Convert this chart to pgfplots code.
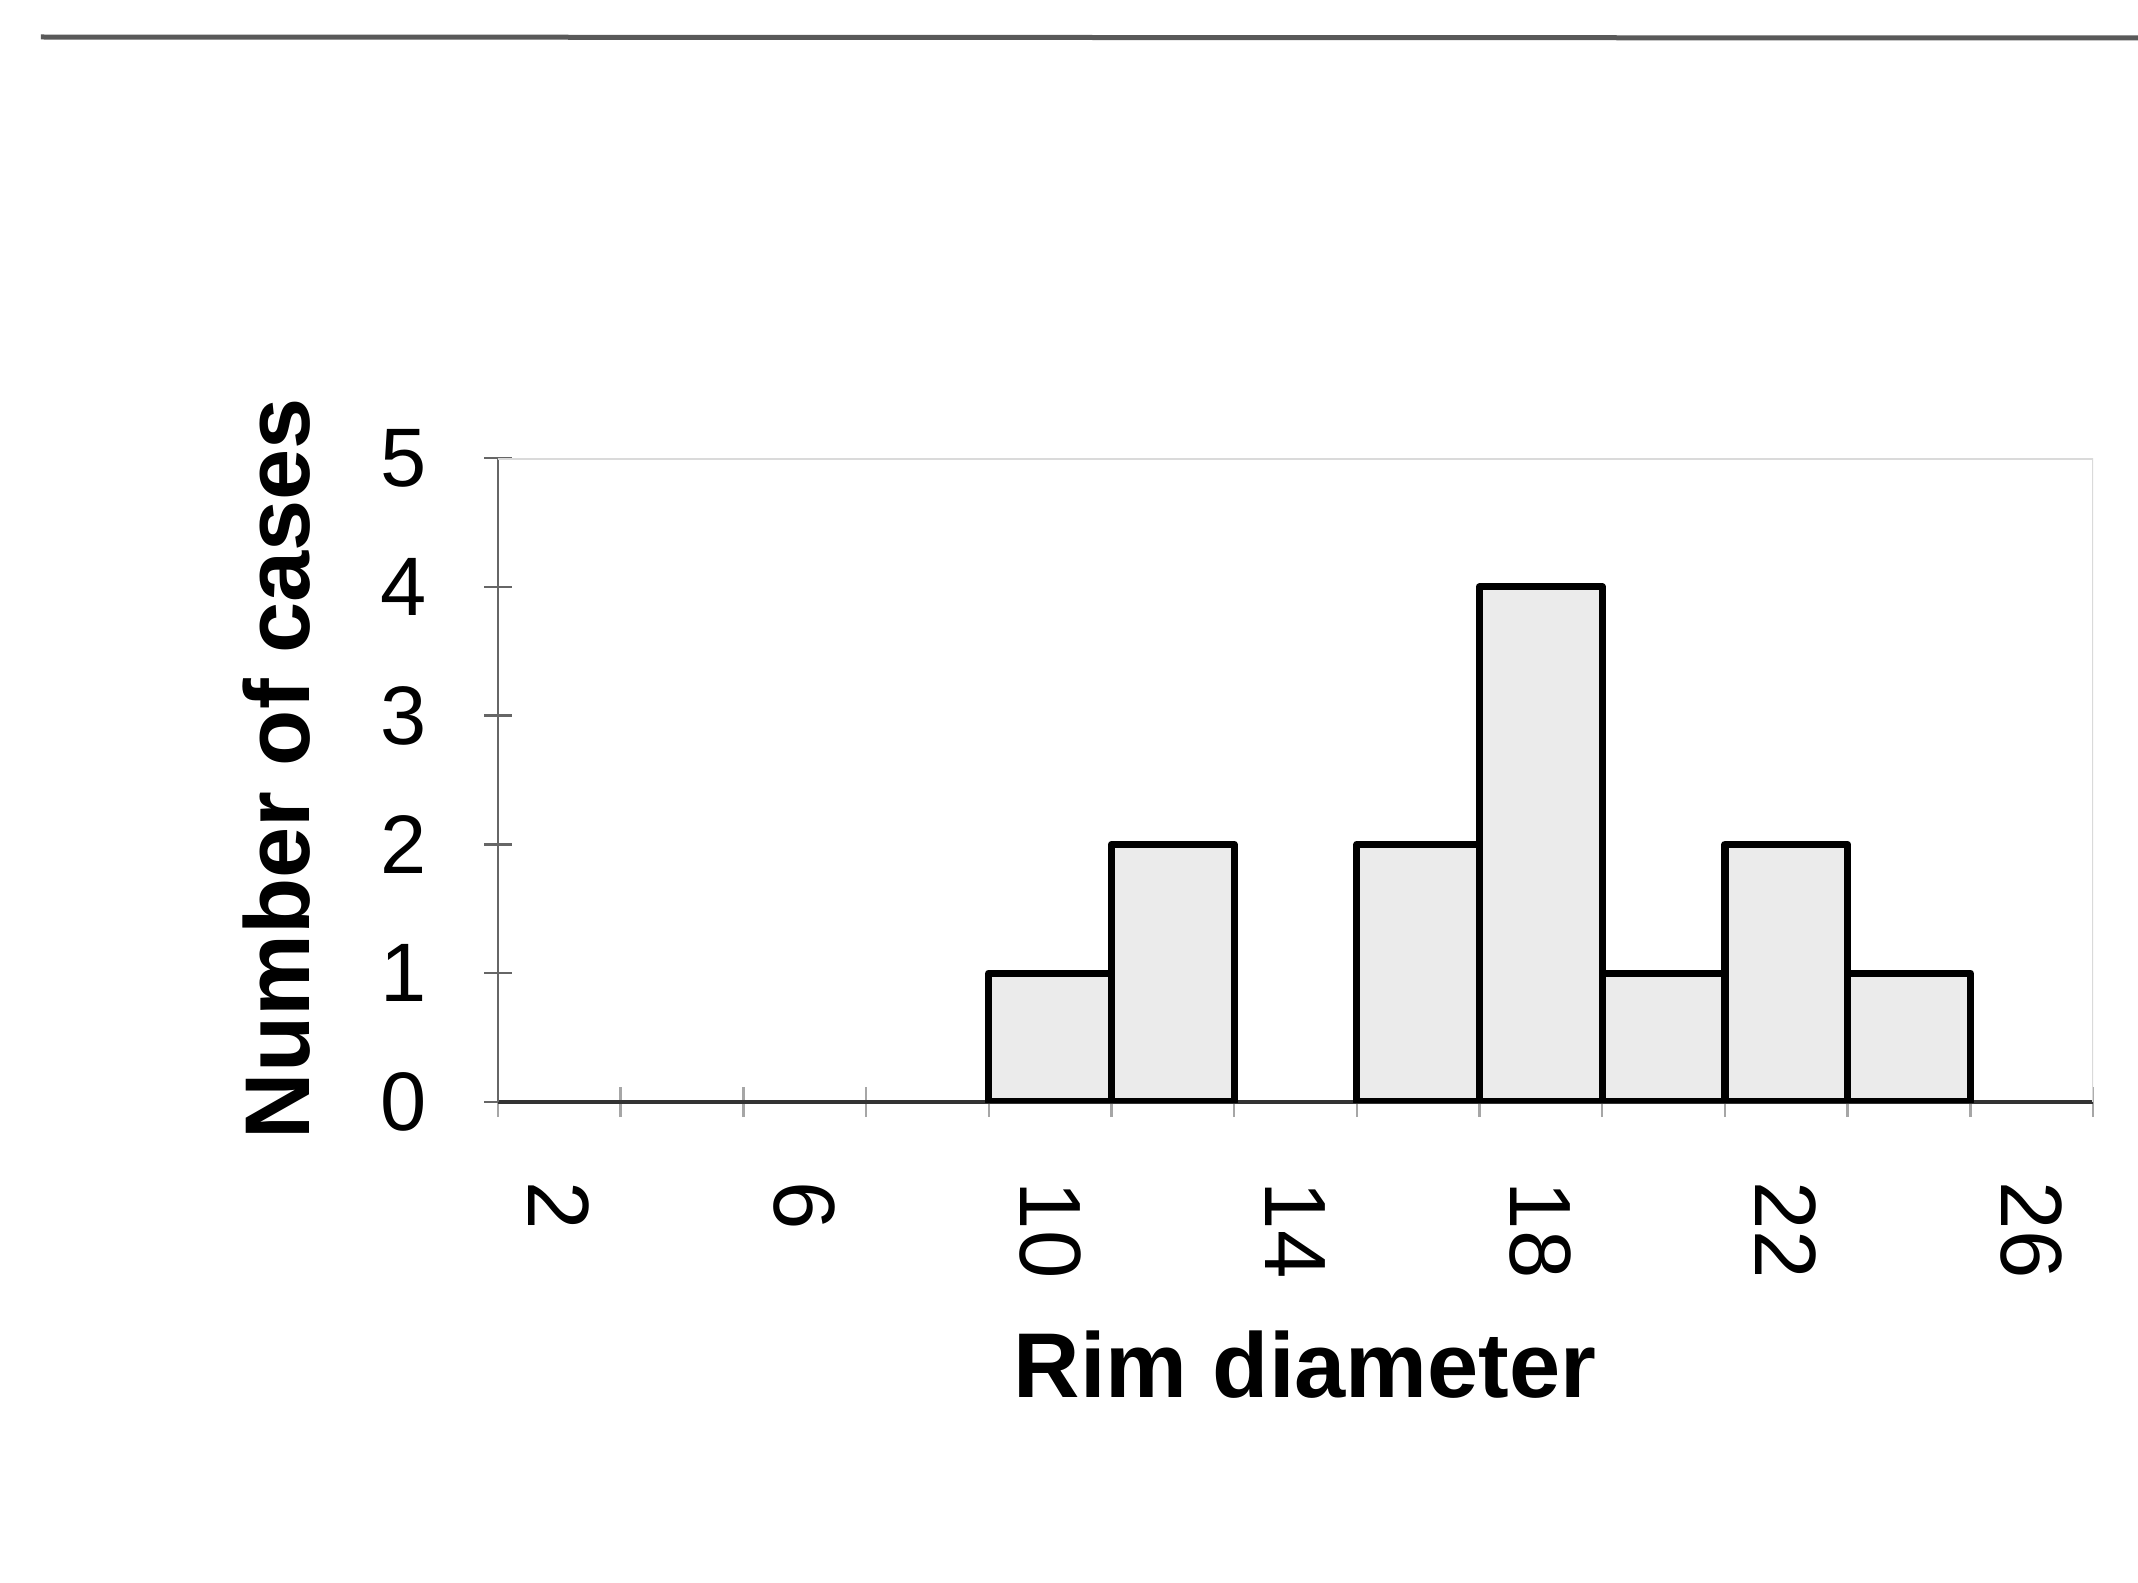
\documentclass[border=0pt]{standalone}
\usepackage{fontspec}
\setmainfont{Liberation Sans}
\usepackage{pgfplots}
\pgfplotsset{compat=1.18}
\definecolor{barfill}{HTML}{EBEBEB}
\definecolor{framegray}{HTML}{DADADA}
\begin{document}
\begin{tikzpicture}
\path[use as bounding box] (-99.6pt,-96pt) rectangle (328pt,220.4pt);
% rule across the top of the figure
\draw[color=black!65, line width=1pt] (-91.4pt,213pt) -- (328pt,212.8pt);
\begin{axis}[
  scale only axis, width=319pt, height=128.8pt,
  xmin=1, xmax=27, ymin=0, ymax=5,
  axis lines=left, axis line style={-},
  x axis line style={color=black!80, line width=0.9pt},
  y axis line style={color=black!60, line width=0.5pt},
  xtick={2,6,...,26}, minor xtick={1,3,...,27},
  ytick={0,...,5},
  major x tick style={draw=none},
  minor x tick style={color=black!35, line width=0.5pt}, minor tick length=6pt,
  y tick style={color=black!60, line width=0.5pt}, major tick length=5.5pt,
  tick align=center,
  /pgf/number format/assume math mode=true,
  xticklabel style={rotate=-90, anchor=west, inner sep=0pt, font=\fontsize{17.4}{19}\selectfont},
  xticklabel shift=13pt,
  yticklabel style={anchor=east, inner sep=0pt, font=\fontsize{16.6}{18}\selectfont},
  yticklabel shift=11.4pt,
  xlabel={Rim diameter}, ylabel={Number of cases},
  xlabel style={at={(axis description cs:0.506,-0.407)}, anchor=center, font=\bfseries\fontsize{18.4}{22}\selectfont},
  ylabel style={at={(axis description cs:-0.139,0.518)}, anchor=center, font=\bfseries\fontsize{18.4}{22}\selectfont},
]
\addplot[ybar, bar width=2, bar shift=0pt, fill=barfill, draw=black, line width=1.45pt, line join=round]
  coordinates {(10,1) (12,2) (16,2) (18,4) (20,1) (22,2) (24,1)};
\draw[framegray, line width=0.6pt] (rel axis cs:0,1) -- (rel axis cs:1,1) -- (rel axis cs:1,0);
\end{axis}
\end{tikzpicture}
\end{document}
